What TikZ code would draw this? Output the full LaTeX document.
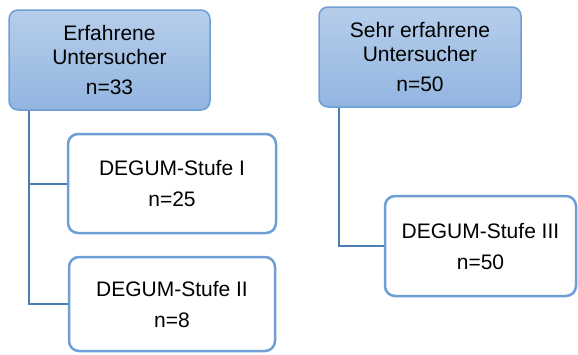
\documentclass[tikz,border=0pt]{standalone}
\usepackage{fontspec}
\setmainfont{Liberation Sans}
\usetikzlibrary{backgrounds}
\definecolor{topA}{HTML}{B6CEEB}
\definecolor{topB}{HTML}{92B5E0}
\definecolor{boxline}{HTML}{6D9ED6}
\definecolor{connline}{HTML}{4A7DB5}
\tikzset{
  groupbox/.style={draw=boxline, line width=1.5pt, rounded corners=9pt,
    top color=topA, bottom color=topB, inner sep=0pt, align=center,
    font=\fontsize{21}{24}\selectfont, text=black},
  levelbox/.style={draw=boxline, line width=2.5pt, rounded corners=10pt,
    fill=white, inner sep=0pt, align=center,
    font=\fontsize{21}{24}\selectfont, text=black},
  conn/.style={draw=connline, line width=2pt}
}
\begin{document}
\begin{tikzpicture}[x=1pt,y=-1pt]
\useasboundingbox (0,0) rectangle (578,354);
\node[groupbox, minimum width=201pt, minimum height=100pt] (A) at (109.5,60) {Erfahrene\\Untersucher\\[6pt]n=33};
\node[groupbox, minimum width=202pt, minimum height=100pt] (B) at (420,57) {Sehr erfahrene\\Untersucher\\[6pt]n=50};
\node[levelbox, minimum width=208pt, minimum height=99pt] (C) at (172,183.5) {DEGUM-Stufe I\\[7pt]n=25};
\node[levelbox, minimum width=206pt, minimum height=94pt] (D) at (172,304) {DEGUM-Stufe II\\[7pt]n=8};
\node[levelbox, minimum width=191pt, minimum height=100pt] (E) at (480.5,246) {DEGUM-Stufe III\\[7pt]n=50};
\begin{scope}[on background layer]
\draw[conn] (A.south west) ++(21,0) |- (C.west);
\draw[conn] (A.south west) ++(21,0) |- (D.west);
\draw[conn] (B.south west) ++(21,0) |- (E.west);
\end{scope}
\end{tikzpicture}
\end{document}
